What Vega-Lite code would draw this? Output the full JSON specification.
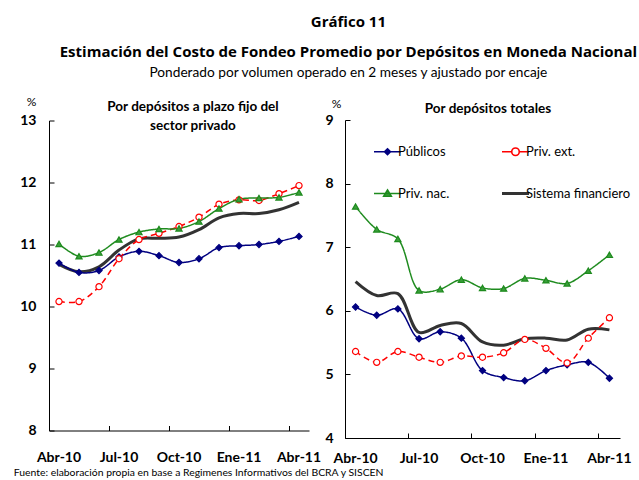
{
  "$schema": "https://vega.github.io/schema/vega-lite/v6.json",
  "background": "white",
  "padding": {"left": 13, "top": 15, "right": 0, "bottom": 0},
  "config": {
    "font": "Lato",
    "view": {"stroke": null},
    "axis": {"grid": false, "domainColor": "#000", "tickColor": "#000", "labelColor": "#000", "titleColor": "#000", "labelFontWeight": "bold", "domainWidth": 1, "tickWidth": 1},
    "title": {"color": "#000", "subtitleColor": "#000"}
  },
  "datasets": {
    "plazo": [
      {"mes": "Abr-10", "serie": "Públicos", "valor": 10.70}, {"mes": "May-10", "serie": "Públicos", "valor": 10.55}, {"mes": "Jun-10", "serie": "Públicos", "valor": 10.58}, {"mes": "Jul-10", "serie": "Públicos", "valor": 10.80}, {"mes": "Ago-10", "serie": "Públicos", "valor": 10.89}, {"mes": "Sep-10", "serie": "Públicos", "valor": 10.82}, {"mes": "Oct-10", "serie": "Públicos", "valor": 10.71}, {"mes": "Nov-10", "serie": "Públicos", "valor": 10.77}, {"mes": "Dic-10", "serie": "Públicos", "valor": 10.95}, {"mes": "Ene-11", "serie": "Públicos", "valor": 10.98}, {"mes": "Feb-11", "serie": "Públicos", "valor": 11.00}, {"mes": "Mar-11", "serie": "Públicos", "valor": 11.05}, {"mes": "Abr-11", "serie": "Públicos", "valor": 11.13},
      {"mes": "Abr-10", "serie": "Priv. ext.", "valor": 10.08}, {"mes": "May-10", "serie": "Priv. ext.", "valor": 10.08}, {"mes": "Jun-10", "serie": "Priv. ext.", "valor": 10.32}, {"mes": "Jul-10", "serie": "Priv. ext.", "valor": 10.77}, {"mes": "Ago-10", "serie": "Priv. ext.", "valor": 11.08}, {"mes": "Sep-10", "serie": "Priv. ext.", "valor": 11.18}, {"mes": "Oct-10", "serie": "Priv. ext.", "valor": 11.29}, {"mes": "Nov-10", "serie": "Priv. ext.", "valor": 11.44}, {"mes": "Dic-10", "serie": "Priv. ext.", "valor": 11.65}, {"mes": "Ene-11", "serie": "Priv. ext.", "valor": 11.72}, {"mes": "Feb-11", "serie": "Priv. ext.", "valor": 11.71}, {"mes": "Mar-11", "serie": "Priv. ext.", "valor": 11.82}, {"mes": "Abr-11", "serie": "Priv. ext.", "valor": 11.95},
      {"mes": "Abr-10", "serie": "Priv. nac.", "valor": 11.01}, {"mes": "May-10", "serie": "Priv. nac.", "valor": 10.81}, {"mes": "Jun-10", "serie": "Priv. nac.", "valor": 10.87}, {"mes": "Jul-10", "serie": "Priv. nac.", "valor": 11.08}, {"mes": "Ago-10", "serie": "Priv. nac.", "valor": 11.20}, {"mes": "Sep-10", "serie": "Priv. nac.", "valor": 11.25}, {"mes": "Oct-10", "serie": "Priv. nac.", "valor": 11.26}, {"mes": "Nov-10", "serie": "Priv. nac.", "valor": 11.37}, {"mes": "Dic-10", "serie": "Priv. nac.", "valor": 11.58}, {"mes": "Ene-11", "serie": "Priv. nac.", "valor": 11.73}, {"mes": "Feb-11", "serie": "Priv. nac.", "valor": 11.75}, {"mes": "Mar-11", "serie": "Priv. nac.", "valor": 11.76}, {"mes": "Abr-11", "serie": "Priv. nac.", "valor": 11.84},
      {"mes": "Abr-10", "serie": "Sistema financiero", "valor": 10.68}, {"mes": "May-10", "serie": "Sistema financiero", "valor": 10.56}, {"mes": "Jun-10", "serie": "Sistema financiero", "valor": 10.64}, {"mes": "Jul-10", "serie": "Sistema financiero", "valor": 10.91}, {"mes": "Ago-10", "serie": "Sistema financiero", "valor": 11.09}, {"mes": "Sep-10", "serie": "Sistema financiero", "valor": 11.10}, {"mes": "Oct-10", "serie": "Sistema financiero", "valor": 11.12}, {"mes": "Nov-10", "serie": "Sistema financiero", "valor": 11.24}, {"mes": "Dic-10", "serie": "Sistema financiero", "valor": 11.43}, {"mes": "Ene-11", "serie": "Sistema financiero", "valor": 11.50}, {"mes": "Feb-11", "serie": "Sistema financiero", "valor": 11.50}, {"mes": "Mar-11", "serie": "Sistema financiero", "valor": 11.56}, {"mes": "Abr-11", "serie": "Sistema financiero", "valor": 11.68}
    ],
    "totales": [
      {"mes": "Abr-10", "serie": "Públicos", "valor": 6.06}, {"mes": "May-10", "serie": "Públicos", "valor": 5.93}, {"mes": "Jun-10", "serie": "Públicos", "valor": 6.03}, {"mes": "Jul-10", "serie": "Públicos", "valor": 5.56}, {"mes": "Ago-10", "serie": "Públicos", "valor": 5.67}, {"mes": "Sep-10", "serie": "Públicos", "valor": 5.57}, {"mes": "Oct-10", "serie": "Públicos", "valor": 5.06}, {"mes": "Nov-10", "serie": "Públicos", "valor": 4.95}, {"mes": "Dic-10", "serie": "Públicos", "valor": 4.90}, {"mes": "Ene-11", "serie": "Públicos", "valor": 5.06}, {"mes": "Feb-11", "serie": "Públicos", "valor": 5.15}, {"mes": "Mar-11", "serie": "Públicos", "valor": 5.19}, {"mes": "Abr-11", "serie": "Públicos", "valor": 4.94},
      {"mes": "Abr-10", "serie": "Priv. ext.", "valor": 5.36}, {"mes": "May-10", "serie": "Priv. ext.", "valor": 5.19}, {"mes": "Jun-10", "serie": "Priv. ext.", "valor": 5.36}, {"mes": "Jul-10", "serie": "Priv. ext.", "valor": 5.27}, {"mes": "Ago-10", "serie": "Priv. ext.", "valor": 5.19}, {"mes": "Sep-10", "serie": "Priv. ext.", "valor": 5.29}, {"mes": "Oct-10", "serie": "Priv. ext.", "valor": 5.27}, {"mes": "Nov-10", "serie": "Priv. ext.", "valor": 5.34}, {"mes": "Dic-10", "serie": "Priv. ext.", "valor": 5.55}, {"mes": "Ene-11", "serie": "Priv. ext.", "valor": 5.41}, {"mes": "Feb-11", "serie": "Priv. ext.", "valor": 5.18}, {"mes": "Mar-11", "serie": "Priv. ext.", "valor": 5.57}, {"mes": "Abr-11", "serie": "Priv. ext.", "valor": 5.89},
      {"mes": "Abr-10", "serie": "Priv. nac.", "valor": 7.64}, {"mes": "May-10", "serie": "Priv. nac.", "valor": 7.28}, {"mes": "Jun-10", "serie": "Priv. nac.", "valor": 7.13}, {"mes": "Jul-10", "serie": "Priv. nac.", "valor": 6.32}, {"mes": "Ago-10", "serie": "Priv. nac.", "valor": 6.34}, {"mes": "Sep-10", "serie": "Priv. nac.", "valor": 6.49}, {"mes": "Oct-10", "serie": "Priv. nac.", "valor": 6.36}, {"mes": "Nov-10", "serie": "Priv. nac.", "valor": 6.35}, {"mes": "Dic-10", "serie": "Priv. nac.", "valor": 6.51}, {"mes": "Ene-11", "serie": "Priv. nac.", "valor": 6.48}, {"mes": "Feb-11", "serie": "Priv. nac.", "valor": 6.43}, {"mes": "Mar-11", "serie": "Priv. nac.", "valor": 6.63}, {"mes": "Abr-11", "serie": "Priv. nac.", "valor": 6.88},
      {"mes": "Abr-10", "serie": "Sistema financiero", "valor": 6.46}, {"mes": "May-10", "serie": "Sistema financiero", "valor": 6.24}, {"mes": "Jun-10", "serie": "Sistema financiero", "valor": 6.27}, {"mes": "Jul-10", "serie": "Sistema financiero", "valor": 5.66}, {"mes": "Ago-10", "serie": "Sistema financiero", "valor": 5.77}, {"mes": "Sep-10", "serie": "Sistema financiero", "valor": 5.80}, {"mes": "Oct-10", "serie": "Sistema financiero", "valor": 5.51}, {"mes": "Nov-10", "serie": "Sistema financiero", "valor": 5.46}, {"mes": "Dic-10", "serie": "Sistema financiero", "valor": 5.56}, {"mes": "Ene-11", "serie": "Sistema financiero", "valor": 5.57}, {"mes": "Feb-11", "serie": "Sistema financiero", "valor": 5.54}, {"mes": "Mar-11", "serie": "Sistema financiero", "valor": 5.71}, {"mes": "Abr-11", "serie": "Sistema financiero", "valor": 5.70}
    ]
  },
  "title": {
    "text": ["Gráfico 11", "Estimación del Costo de Fondeo Promedio por Depósitos en Moneda Nacional"],
    "subtitle": "Ponderado por volumen operado en 2 meses y ajustado por encaje",
    "font": "Open Sans", "fontSize": 15, "fontWeight": "bold", "lineHeight": 30,
    "subtitleFont": "Lato", "subtitleFontSize": 13.7, "subtitleFontWeight": "normal", "subtitlePadding": 5.5,
    "anchor": "middle", "dx": 26, "offset": 16
  },
  "vconcat": [{
    "title": {"text": "Fuente: elaboración propia en base a Regimenes Informativos del BCRA y SISCEN", "orient": "bottom", "anchor": "start", "fontSize": 10.4, "fontWeight": "normal", "offset": 3, "dx": -6},
    "spacing": 3,
    "center": true,
    "bounds": "full",
    "resolve": {"scale": {"color": "independent", "shape": "independent", "fill": "independent", "strokeDash": "independent"}, "legend": {"color": "independent"}},
    "hconcat": [
      {
        "width": 260, "height": 310,
        "title": {"text": ["Por depósitos a plazo fijo del", "sector privado"], "fontSize": 13.5, "fontWeight": "bold", "lineHeight": 19.5, "anchor": "middle", "dx": 14, "offset": -37},
        "data": {"name": "plazo"},
        "encoding": {
          "x": {"field": "mes", "type": "ordinal", "sort": ["Abr-10","May-10","Jun-10","Jul-10","Ago-10","Sep-10","Oct-10","Nov-10","Dic-10","Ene-11","Feb-11","Mar-11","Abr-11"],
            "scale": {"type": "band", "paddingInner": 0, "paddingOuter": 0},
            "axis": {"values": ["Abr-10","Jul-10","Oct-10","Ene-11","Abr-11"], "bandPosition": 0, "tickSize": -5, "labelPadding": 25, "labelFontSize": 14, "labelAngle": 0, "title": null, "labelOverlap": false}},
          "y": {"field": "valor", "type": "quantitative", "scale": {"domain": [8, 13], "nice": false, "zero": false},
            "axis": {"values": [8, 9, 10, 11, 12, 13], "tickSize": -5, "labelPadding": 18, "labelFontSize": 14, "title": "%", "titleAngle": 0, "titleX": -18, "titleY": -15, "titleAlign": "center", "titleBaseline": "alphabetic", "titleFontSize": 12, "titleFontWeight": "normal"}},
          "color": {"field": "serie", "type": "nominal", "scale": {"domain": ["Públicos", "Priv. ext.", "Priv. nac.", "Sistema financiero"], "range": ["#000080", "#FF0000", "#1E8B1E", "#333333"]}, "legend": null}
        },
        "layer": [
          {"transform": [{"filter": "datum.serie === 'Sistema financiero'"}], "mark": {"type": "line", "interpolate": "catmull-rom", "strokeWidth": 3}},
          {"transform": [{"filter": "datum.serie !== 'Sistema financiero'"}], "mark": {"type": "line", "interpolate": "catmull-rom", "strokeWidth": 1.5},
            "encoding": {"strokeDash": {"field": "serie", "type": "nominal", "scale": {"domain": ["Públicos", "Priv. ext.", "Priv. nac."], "range": [[1, 0], [6, 4], [1, 0]]}, "legend": null}}},
          {"transform": [{"filter": "datum.serie !== 'Sistema financiero'"}], "mark": {"type": "point", "filled": false, "size": 38, "strokeWidth": 1.2, "opacity": 1},
            "encoding": {
              "shape": {"field": "serie", "type": "nominal", "scale": {"domain": ["Públicos", "Priv. ext.", "Priv. nac."], "range": ["diamond", "circle", "triangle-up"]}, "legend": null},
              "fill": {"field": "serie", "type": "nominal", "scale": {"domain": ["Públicos", "Priv. ext.", "Priv. nac."], "range": ["#000080", "#FFFFFF", "#3A9E3A"]}, "legend": null}
            }}
        ]
      },
      {
        "width": 275, "height": 318,
        "title": {"text": "Por depósitos totales", "fontSize": 13.5, "fontWeight": "bold", "anchor": "middle", "dx": 5.5, "offset": -18},
        "data": {"name": "totales"},
        "encoding": {
          "x": {"field": "mes", "type": "ordinal", "sort": ["Abr-10","May-10","Jun-10","Jul-10","Ago-10","Sep-10","Oct-10","Nov-10","Dic-10","Ene-11","Feb-11","Mar-11","Abr-11"],
            "scale": {"type": "band", "paddingInner": 0, "paddingOuter": 0},
            "axis": {"values": ["Abr-10","Jul-10","Oct-10","Ene-11","Abr-11"], "bandPosition": 0, "tickSize": -5, "labelPadding": 18, "labelFontSize": 14, "labelAngle": 0, "title": null, "labelOverlap": false}},
          "y": {"field": "valor", "type": "quantitative", "scale": {"domain": [4, 9], "nice": false, "zero": false},
            "axis": {"values": [4, 5, 6, 7, 8, 9], "tickSize": -5, "labelPadding": 17, "labelFontSize": 14, "title": "%", "titleAngle": 0, "titleX": -9, "titleY": -12.5, "titleAlign": "center", "titleBaseline": "alphabetic", "titleFontSize": 12, "titleFontWeight": "normal"}},
          "color": {"field": "serie", "type": "nominal", "scale": {"domain": ["Públicos", "Priv. ext.", "Priv. nac.", "Sistema financiero"], "range": ["#000080", "#FF0000", "#1E8B1E", "#333333"]},
            "legend": {"title": null, "orient": "none", "legendX": 36, "legendY": 25, "direction": "horizontal", "columns": 2, "columnPadding": 46, "rowPadding": 27, "symbolSize": 729, "symbolStrokeWidth": 2, "labelFontSize": 13, "labelColor": "#000", "labelOffset": 4, "padding": 0,
              "encode": {"symbols": {"update": {
                "shape": {"signal": "datum.value === 'Públicos' ? 'M-1,0H1M0,-0.22L0.22,0L0,0.22L-0.22,0Z' : datum.value === 'Priv. ext.' ? 'M-1,0H-0.28M0.28,0H1M-0.28,0A0.28,0.28 0 1,0 0.28,0A0.28,0.28 0 1,0 -0.28,0Z' : datum.value === 'Priv. nac.' ? 'M-1,0H1M0,-0.26L0.28,0.2L-0.28,0.2Z' : 'M-1,0H1'"},
                "fill": {"signal": "datum.value === 'Públicos' ? '#000080' : datum.value === 'Priv. ext.' ? '#FFFFFF' : datum.value === 'Priv. nac.' ? '#3A9E3A' : 'transparent'"},
                "stroke": {"signal": "datum.value === 'Públicos' ? '#000080' : datum.value === 'Priv. ext.' ? '#FF0000' : datum.value === 'Priv. nac.' ? '#1E8B1E' : '#333333'"},
                "strokeWidth": {"signal": "datum.value === 'Sistema financiero' ? 3 : 1.6"},
                "strokeDash": {"value": []},
                "opacity": {"value": 1}
              }}}}}},
        "layer": [
          {"transform": [{"filter": "datum.serie === 'Sistema financiero'"}], "mark": {"type": "line", "interpolate": "catmull-rom", "strokeWidth": 3}},
          {"transform": [{"filter": "datum.serie !== 'Sistema financiero'"}], "mark": {"type": "line", "interpolate": "catmull-rom", "strokeWidth": 1.5},
            "encoding": {"strokeDash": {"field": "serie", "type": "nominal", "scale": {"domain": ["Públicos", "Priv. ext.", "Priv. nac."], "range": [[1, 0], [6, 4], [1, 0]]}, "legend": null}}},
          {"transform": [{"filter": "datum.serie !== 'Sistema financiero'"}], "mark": {"type": "point", "filled": false, "size": 38, "strokeWidth": 1.2, "opacity": 1},
            "encoding": {
              "shape": {"field": "serie", "type": "nominal", "scale": {"domain": ["Públicos", "Priv. ext.", "Priv. nac."], "range": ["diamond", "circle", "triangle-up"]}, "legend": null},
              "fill": {"field": "serie", "type": "nominal", "scale": {"domain": ["Públicos", "Priv. ext.", "Priv. nac."], "range": ["#000080", "#FFFFFF", "#3A9E3A"]}, "legend": null}
            }}
        ]
      }
    ]
  }]
}
